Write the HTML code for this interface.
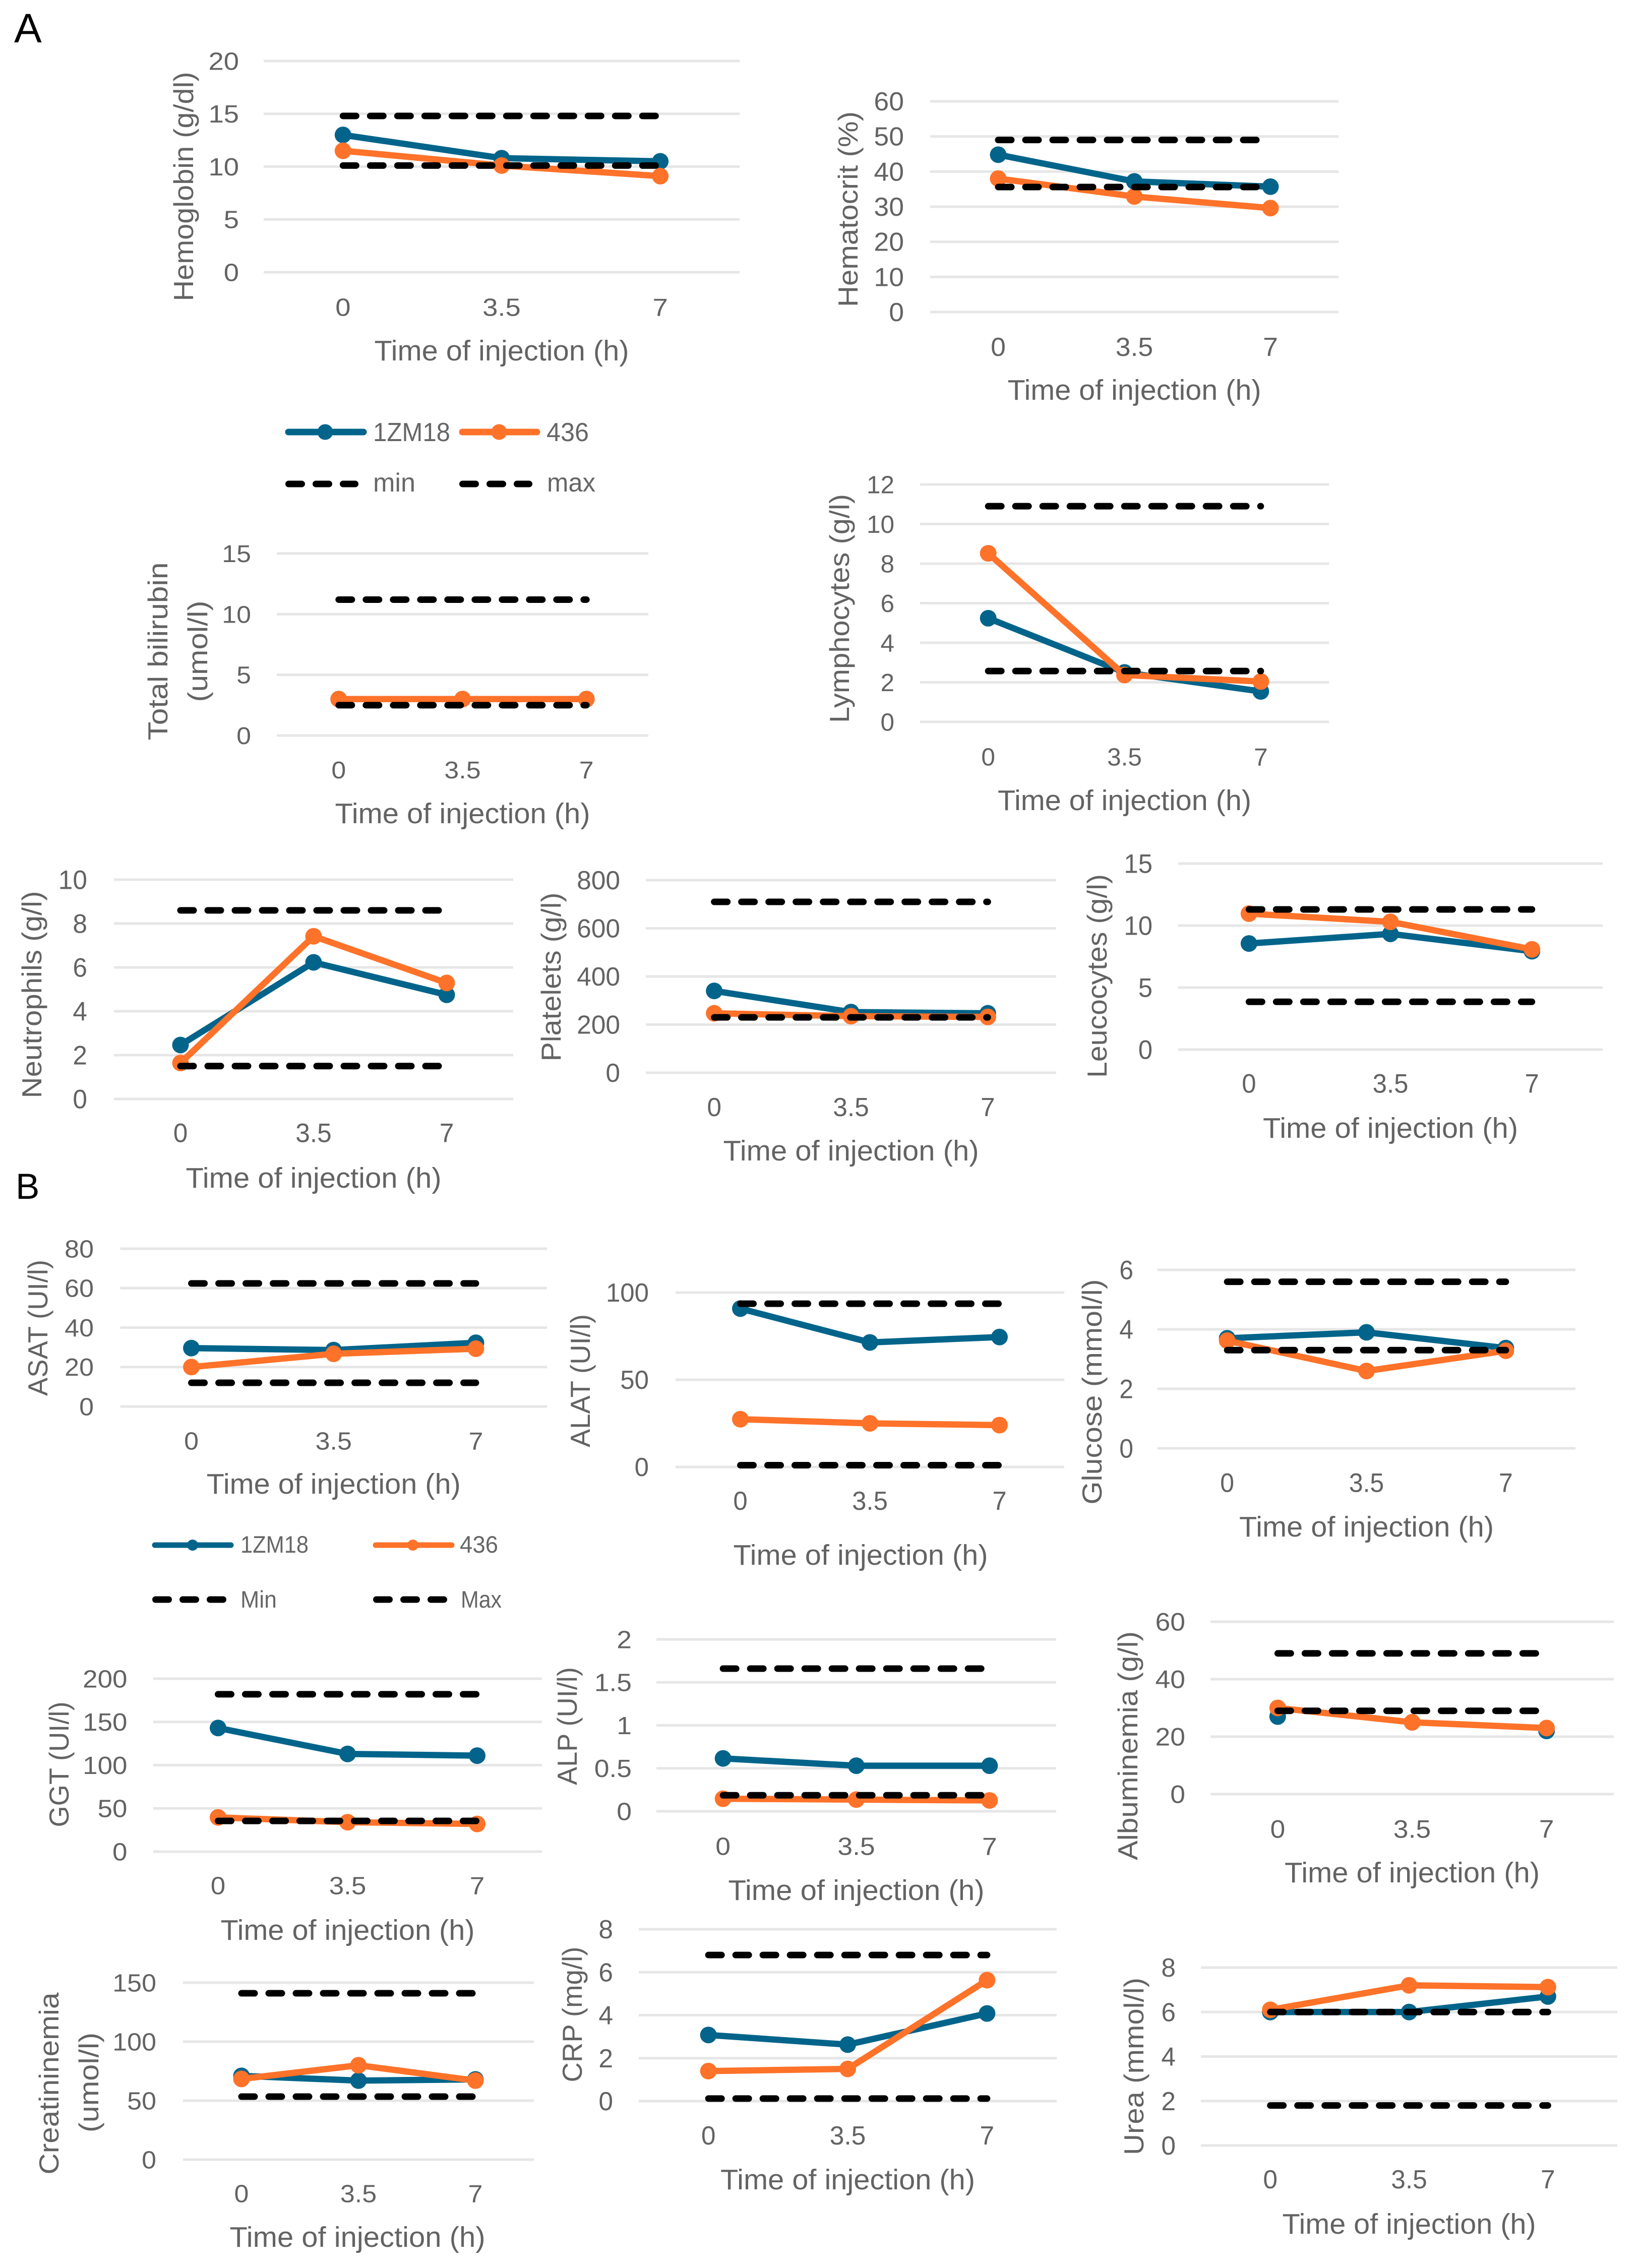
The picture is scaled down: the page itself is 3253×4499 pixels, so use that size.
<!DOCTYPE html>
<html lang="en">
<head>
<meta charset="utf-8">
<title>Blood parameters over time of injection</title>
<style>
html,body{margin:0;padding:0;background:#fff;}
svg{display:block;font-family:"Liberation Sans",sans-serif;}
</style>
</head>
<body>
<svg id="figure" xmlns="http://www.w3.org/2000/svg" width="3253" height="4499" viewBox="0 0 3253 4499">
  <rect x="0" y="0" width="3253" height="4499" fill="#ffffff"/>
  <text x="28" y="84" font-size="82" fill="#000">A</text>
  <text x="31" y="2378" font-size="71" fill="#000">B</text>

  <g>
    <g>
      <line x1="572" y1="857" x2="721" y2="857" stroke="#02648a" stroke-width="13" stroke-linecap="round"/>
      <circle cx="645" cy="857" r="15.5" fill="#02648a"/>
      <text x="740" y="875" font-size="52" fill="#666" textLength="153" lengthAdjust="spacingAndGlyphs">1ZM18</text>
    </g>
    <g>
      <line x1="917" y1="857" x2="1065" y2="857" stroke="#fe7229" stroke-width="13" stroke-linecap="round"/>
      <circle cx="990" cy="857" r="15.5" fill="#fe7229"/>
      <text x="1084" y="875" font-size="52" fill="#666" textLength="84" lengthAdjust="spacingAndGlyphs">436</text>
    </g>
    <g>
      <line x1="572.5" y1="960" x2="704.5" y2="960" stroke="#000" stroke-width="13" stroke-linecap="round" stroke-dasharray="26 28"/>
      <text x="740" y="975" font-size="52" fill="#666" textLength="84" lengthAdjust="spacingAndGlyphs">min</text>
    </g>
    <g>
      <line x1="917.5" y1="960" x2="1049.5" y2="960" stroke="#000" stroke-width="13" stroke-linecap="round" stroke-dasharray="26 28"/>
      <text x="1085" y="975" font-size="52" fill="#666" textLength="96" lengthAdjust="spacingAndGlyphs">max</text>
    </g>
  </g>

  <g>
    <g>
      <line x1="307" y1="3065" x2="458" y2="3065" stroke="#02648a" stroke-width="11" stroke-linecap="round"/>
      <circle cx="382" cy="3065" r="11" fill="#02648a"/>
      <text x="477" y="3080" font-size="47" fill="#666" textLength="135" lengthAdjust="spacingAndGlyphs">1ZM18</text>
    </g>
    <g>
      <line x1="745" y1="3065" x2="896" y2="3065" stroke="#fe7229" stroke-width="11" stroke-linecap="round"/>
      <circle cx="819" cy="3065" r="11" fill="#fe7229"/>
      <text x="912" y="3080" font-size="47" fill="#666" textLength="76" lengthAdjust="spacingAndGlyphs">436</text>
    </g>
    <g>
      <line x1="308.5" y1="3173" x2="442.5" y2="3173" stroke="#000" stroke-width="13" stroke-linecap="round" stroke-dasharray="26 28"/>
      <text x="477" y="3189" font-size="47" fill="#666" textLength="72" lengthAdjust="spacingAndGlyphs">Min</text>
    </g>
    <g>
      <line x1="746.5" y1="3173" x2="880.5" y2="3173" stroke="#000" stroke-width="13" stroke-linecap="round" stroke-dasharray="26 28"/>
      <text x="914" y="3189" font-size="47" fill="#666" textLength="81" lengthAdjust="spacingAndGlyphs">Max</text>
    </g>
  </g>
</svg>

<script>
// ---------- Data ----------
const timeLabels = ['0', '3.5', '7'];

const hemoglobinTicks = [0, 5, 10, 15, 20];
const hemoglobin1ZM18 = [13, 10.8, 10.5];
const hemoglobin436 = [11.5, 10.1, 9.1];
const hemoglobinMin = [10.1, 10.1, 10.1];
const hemoglobinMax = [14.8, 14.8, 14.8];

const hematocritTicks = [0, 10, 20, 30, 40, 50, 60];
const hematocrit1ZM18 = [44.8, 37.2, 35.7];
const hematocrit436 = [38, 32.9, 29.6];
const hematocritMin = [35.6, 35.6, 35.6];
const hematocritMax = [49, 49, 49];

const bilirubinTicks = [0, 5, 10, 15];
const bilirubin1ZM18 = [3, 3, 3];
const bilirubin436 = [3, 3, 3];
const bilirubinMin = [2.5, 2.5, 2.5];
const bilirubinMax = [11.2, 11.2, 11.2];

const lymphocytesTicks = [0, 2, 4, 6, 8, 10, 12];
const lymphocytes1ZM18 = [5.24, 2.5, 1.54];
const lymphocytes436 = [8.52, 2.37, 2.04];
const lymphocytesMin = [2.57, 2.57, 2.57];
const lymphocytesMax = [10.9, 10.9, 10.9];

const neutrophilsTicks = [0, 2, 4, 6, 8, 10];
const neutrophils1ZM18 = [2.46, 6.23, 4.75];
const neutrophils436 = [1.64, 7.42, 5.29];
const neutrophilsMin = [1.5, 1.5, 1.5];
const neutrophilsMax = [8.6, 8.6, 8.6];

const plateletsTicks = [0, 200, 400, 600, 800];
const platelets1ZM18 = [340, 252, 247];
const platelets436 = [247, 235, 232];
const plateletsMin = [230, 230, 230];
const plateletsMax = [710, 710, 710];

const leucocytesTicks = [0, 5, 10, 15];
const leucocytes1ZM18 = [8.55, 9.33, 7.93];
const leucocytes436 = [10.96, 10.3, 8.08];
const leucocytesMin = [3.85, 3.85, 3.85];
const leucocytesMax = [11.3, 11.3, 11.3];

const asatTicks = [0, 20, 40, 60, 80];
const asat1ZM18 = [29.6, 28.6, 32.3];
const asat436 = [20, 26.7, 29.3];
const asatMin = [12, 12, 12];
const asatMax = [62.4, 62.4, 62.4];

const alatTicks = [0, 50, 100];
const alat1ZM18 = [90.8, 71.4, 74.5];
const alat436 = [27.4, 25, 24];
const alatMin = [1, 1, 1];
const alatMax = [93.6, 93.6, 93.6];

const glucoseTicks = [0, 2, 4, 6];
const glucose1ZM18 = [3.7, 3.9, 3.37];
const glucose436 = [3.62, 2.6, 3.28];
const glucoseMin = [3.3, 3.3, 3.3];
const glucoseMax = [5.6, 5.6, 5.6];

const ggtTicks = [0, 50, 100, 150, 200];
const ggt1ZM18 = [143, 113, 111];
const ggt436 = [39.6, 34, 32];
const ggtMin = [35.5, 35.5, 35.5];
const ggtMax = [182, 182, 182];

const alpTicks = [0, 0.5, 1, 1.5, 2];
const alpTickLabels = ['0', '0.5', '1', '1.5', '2'];
const alp1ZM18 = [0.615, 0.53, 0.53];
const alp436 = [0.146, 0.136, 0.126];
const alpMin = [0.186, 0.186, 0.186];
const alpMax = [1.66, 1.66, 1.66];

const albuminTicks = [0, 20, 40, 60];
const albumin1ZM18 = [27, 25, 22];
const albumin436 = [30, 25, 23];
const albuminMin = [29, 29, 29];
const albuminMax = [49, 49, 49];

const creatinineTicks = [0, 50, 100, 150];
const creatinine1ZM18 = [71, 67, 68];
const creatinine436 = [68.4, 80, 67];
const creatinineMin = [53.4, 53.4, 53.4];
const creatinineMax = [141, 141, 141];

const crpTicks = [0, 2, 4, 6, 8];
const crp1ZM18 = [3.08, 2.63, 4.08];
const crp436 = [1.4, 1.5, 5.63];
const crpMin = [0.12, 0.12, 0.12];
const crpMax = [6.8, 6.8, 6.8];

const ureaTicks = [0, 2, 4, 6, 8];
const urea1ZM18 = [6, 6, 6.7];
const urea436 = [6.1, 7.2, 7.12];
const ureaMin = [6, 6, 6];
const ureaMax = [1.8, 1.8, 1.8];

// ---------- Chart definitions (data references + placement) ----------
const charts = [
  {name:'hemoglobin', ticks:hemoglobinTicks, s1:hemoglobin1ZM18, s2:hemoglobin436, lo:hemoglobinMin, hi:hemoglobinMax,
   box:[523,1467,121,540], tickRight:474, tickSize:49.5, tickHS:1.1, xTickY:609, xTitleY:700, xTitleW:505,
   yLabels:[{t:'Hemoglobin (g/dl)', cx:365, cy:370, len:455}]},
  {name:'hematocrit', ticks:hematocritTicks, s1:hematocrit1ZM18, s2:hematocrit436, lo:hematocritMin, hi:hematocritMax,
   box:[1845,2655,201,619], tickRight:1793, tickSize:51.5, tickHS:1.04, xTickY:688, xTitleY:778, xTitleW:503,
   yLabels:[{t:'Hematocrit (%)', cx:1683, cy:415, len:388}]},
  {name:'total-bilirubin', ticks:bilirubinTicks, s1:bilirubin1ZM18, s2:bilirubin436, lo:bilirubinMin, hi:bilirubinMax,
   box:[549,1286,1098,1459], tickRight:498, tickSize:48.5, tickHS:1.07, xTickY:1527, xTitleY:1618, xTitleW:506,
   yLabels:[{t:'Total bilirubin', cx:314, cy:1292, len:353},{t:'(umol/l)', cx:393, cy:1292, len:201}]},
  {name:'lymphocytes', ticks:lymphocytesTicks, s1:lymphocytes1ZM18, s2:lymphocytes436, lo:lymphocytesMin, hi:lymphocytesMax,
   box:[1825,2636,961,1432], tickRight:1774, tickSize:49.5, tickHS:1.0, xTickY:1501, xTitleY:1592, xTitleW:503,
   yLabels:[{t:'Lymphocytes (g/l)', cx:1666, cy:1207, len:454}]},
  {name:'neutrophils', ticks:neutrophilsTicks, s1:neutrophils1ZM18, s2:neutrophils436, lo:neutrophilsMin, hi:neutrophilsMax,
   box:[226,1018,1745,2180], tickRight:173, tickSize:52.5, tickHS:0.98, xTickY:2247, xTitleY:2341, xTitleW:507,
   yLabels:[{t:'Neutrophils (g/l)', cx:64, cy:1973, len:411}]},
  {name:'platelets', ticks:plateletsTicks, s1:platelets1ZM18, s2:platelets436, lo:plateletsMin, hi:plateletsMax,
   box:[1281,2095,1746,2128], tickRight:1230, tickSize:51.5, tickHS:1.0, xTickY:2196, xTitleY:2287, xTitleW:507,
   yLabels:[{t:'Platelets (g/l)', cx:1094, cy:1938, len:335}]},
  {name:'leucocytes', ticks:leucocytesTicks, s1:leucocytes1ZM18, s2:leucocytes436, lo:leucocytesMin, hi:leucocytesMax,
   box:[2337,3179,1713,2082], tickRight:2286, tickSize:53, tickHS:0.96, xTickY:2149, xTitleY:2242, xTitleW:506,
   yLabels:[{t:'Leucocytes (g/l)', cx:2177, cy:1936, len:404}]},
  {name:'asat', ticks:asatTicks, s1:asat1ZM18, s2:asat436, lo:asatMin, hi:asatMax,
   box:[238.5,1085,2477,2790], tickRight:186, tickSize:49.5, tickHS:1.05, xTickY:2858, xTitleY:2948, xTitleW:504,
   yLabels:[{t:'ASAT (UI/l)', cx:76, cy:2634, len:270}]},
  {name:'alat', ticks:alatTicks, s1:alat1ZM18, s2:alat436, lo:alatMin, hi:alatMax,
   box:[1340,2111,2564,2910], tickRight:1287, tickSize:51.5, tickHS:0.99, xTickY:2977, xTitleY:3089, xTitleW:505, xTitleCx:1707,
   yLabels:[{t:'ALAT (UI/l)', cx:1152, cy:2739, len:264}]},
  {name:'glucose', ticks:glucoseTicks, s1:glucose1ZM18, s2:glucose436, lo:glucoseMin, hi:glucoseMax,
   box:[2296,3125,2519,2873], tickRight:2248, tickSize:52.5, tickHS:0.95, xTickY:2941, xTitleY:3033, xTitleW:505,
   yLabels:[{t:'Glucose (mmol/l)', cx:2167, cy:2761, len:447}]},
  {name:'ggt', ticks:ggtTicks, s1:ggt1ZM18, s2:ggt436, lo:ggtMin, hi:ggtMax,
   box:[304,1075,3330,3673], tickRight:252.5, tickSize:49.5, tickHS:1.07, xTickY:3740, xTitleY:3833, xTitleW:504,
   yLabels:[{t:'GGT (UI/l)', cx:118, cy:3500, len:249}]},
  {name:'alp', ticks:alpTicks, tickLabels:alpTickLabels, s1:alp1ZM18, s2:alp436, lo:alpMin, hi:alpMax,
   box:[1302,2095,3252,3593], tickRight:1253, tickSize:49.5, tickHS:1.08, xTickY:3662, xTitleY:3754, xTitleW:508,
   yLabels:[{t:'ALP (UI/l)', cx:1126, cy:3424, len:234}]},
  {name:'albuminemia', ticks:albuminTicks, s1:albumin1ZM18, s2:albumin436, lo:albuminMin, hi:albuminMax, s1HideLine:true,
   box:[2401,3201,3217,3559], tickRight:2351, tickSize:50.5, tickHS:1.06, xTickY:3628, xTitleY:3719, xTitleW:506,
   yLabels:[{t:'Albuminemia (g/l)', cx:2238, cy:3463, len:454}]},
  {name:'creatininemia', ticks:creatinineTicks, s1:creatinine1ZM18, s2:creatinine436, lo:creatinineMin, hi:creatinineMax,
   box:[363,1059,3933,4284], tickRight:310, tickSize:49.5, tickHS:1.05, xTickY:4351, xTitleY:4442, xTitleW:507, xTitleCx:709,
   yLabels:[{t:'Creatininemia', cx:98, cy:4133, len:361},{t:'(umol/l)', cx:177, cy:4131, len:198}]},
  {name:'crp', ticks:crpTicks, s1:crp1ZM18, s2:crp436, lo:crpMin, hi:crpMax,
   box:[1267,2096,3827,4168], tickRight:1216, tickSize:51.5, tickHS:1.0, xTickY:4236, xTitleY:4328, xTitleW:505,
   yLabels:[{t:'CRP (mg/l)', cx:1136, cy:3996, len:269}]},
  {name:'urea', ticks:ureaTicks, s1:urea1ZM18, s2:urea436, lo:ureaMin, hi:ureaMax,
   box:[2382,3208,3903,4256], tickRight:2332, tickSize:51.5, tickHS:1.0, xTickY:4323, xTitleY:4416, xTitleW:503,
   yLabels:[{t:'Urea (mmol/l)', cx:2250, cy:4099, len:352}]}
];

// ---------- Rendering ----------
const NS = 'http://www.w3.org/2000/svg';
const BLUE = '#02648a', ORANGE = '#fe7229', TEXT = '#636363', GRID = '#e6e6e6';
const figure = document.getElementById('figure');

function make(tag, attrs, parent) {
  const el = document.createElementNS(NS, tag);
  Object.keys(attrs).forEach(function (k) { el.setAttribute(k, attrs[k]); });
  parent.appendChild(el);
  return el;
}

function drawSeries(group, points, color, seriesName, hideLine) {
  if (!hideLine) {
    const line = make('polyline', {points: points.map(function (p) { return p[0] + ',' + p[1]; }).join(' '),
      fill: 'none', stroke: color, 'stroke-width': 12.5, 'stroke-linejoin': 'round'}, group);
    
    
  }
  points.forEach(function (p) {
    const dot = make('circle', {cx: p[0], cy: p[1], r: 16.5, fill: color}, group);
    
    
  });
}

function drawRange(group, points, rangeName) {
  const line = make('polyline', {points: points.map(function (p) { return p[0] + ',' + p[1]; }).join(' '),
    fill: 'none', stroke: '#000', 'stroke-width': 13, 'stroke-linecap': 'round', 'stroke-dasharray': '26 28'}, group);
  
  
}

function drawChart(c) {
  const left = c.box[0], right = c.box[1], top = c.box[2], bottom = c.box[3];
  const maxTick = c.ticks[c.ticks.length - 1];
  const band = (right - left) / timeLabels.length;
  const xScale = function (i) { return left + (i + 0.5) * band; };
  const yScale = function (v) { return bottom - (v / maxTick) * (bottom - top); };
  const toPoints = function (arr) { return arr.map(function (v, i) { return [xScale(i), yScale(v)]; }); };

  const g = make('g', {}, figure);
  
  

  c.ticks.forEach(function (t, i) {
    const gy = yScale(t);
    const grid = make('line', {x1: left, x2: right, y1: gy, y2: gy, stroke: GRID, 'stroke-width': 5}, g);
    
    
    const label = c.tickLabels ? c.tickLabels[i] : String(t);
    const tx = make('text', {transform: 'translate(' + c.tickRight + ',' + (gy + c.tickSize * 0.35) + ') scale(' + c.tickHS + ',1)',
      'text-anchor': 'end', 'font-size': c.tickSize, fill: TEXT}, g);
    tx.textContent = label;
    
    
  });

  timeLabels.forEach(function (lab, i) {
    const tx = make('text', {transform: 'translate(' + xScale(i) + ',' + (c.xTickY + c.tickSize * 0.35) + ') scale(' + c.tickHS + ',1)',
      'text-anchor': 'middle', 'font-size': c.tickSize, fill: TEXT}, g);
    tx.textContent = lab;
    
    
  });

  const titleCx = c.xTitleCx !== undefined ? c.xTitleCx : (left + right) / 2;
  const xTitle = make('text', {x: titleCx, y: c.xTitleY + 15, 'text-anchor': 'middle', 'font-size': 57, fill: TEXT,
    textLength: c.xTitleW, lengthAdjust: 'spacingAndGlyphs'}, g);
  xTitle.textContent = 'Time of injection (h)';
  
  

  c.yLabels.forEach(function (yl) {
    const tx = make('text', {transform: 'translate(' + (yl.cx + 18) + ',' + yl.cy + ') rotate(-90)', 'text-anchor': 'middle',
      'font-size': 55, fill: TEXT, textLength: yl.len, lengthAdjust: 'spacingAndGlyphs'}, g);
    tx.textContent = yl.t;
    
    
  });

  drawSeries(g, toPoints(c.s1), BLUE, c.name + '-1zm18', c.s1HideLine);
  drawSeries(g, toPoints(c.s2), ORANGE, c.name + '-436', false);
  drawRange(g, toPoints(c.lo), c.name + '-min');
  drawRange(g, toPoints(c.hi), c.name + '-max');
}

charts.forEach(drawChart);
</script>
</body>
</html>
